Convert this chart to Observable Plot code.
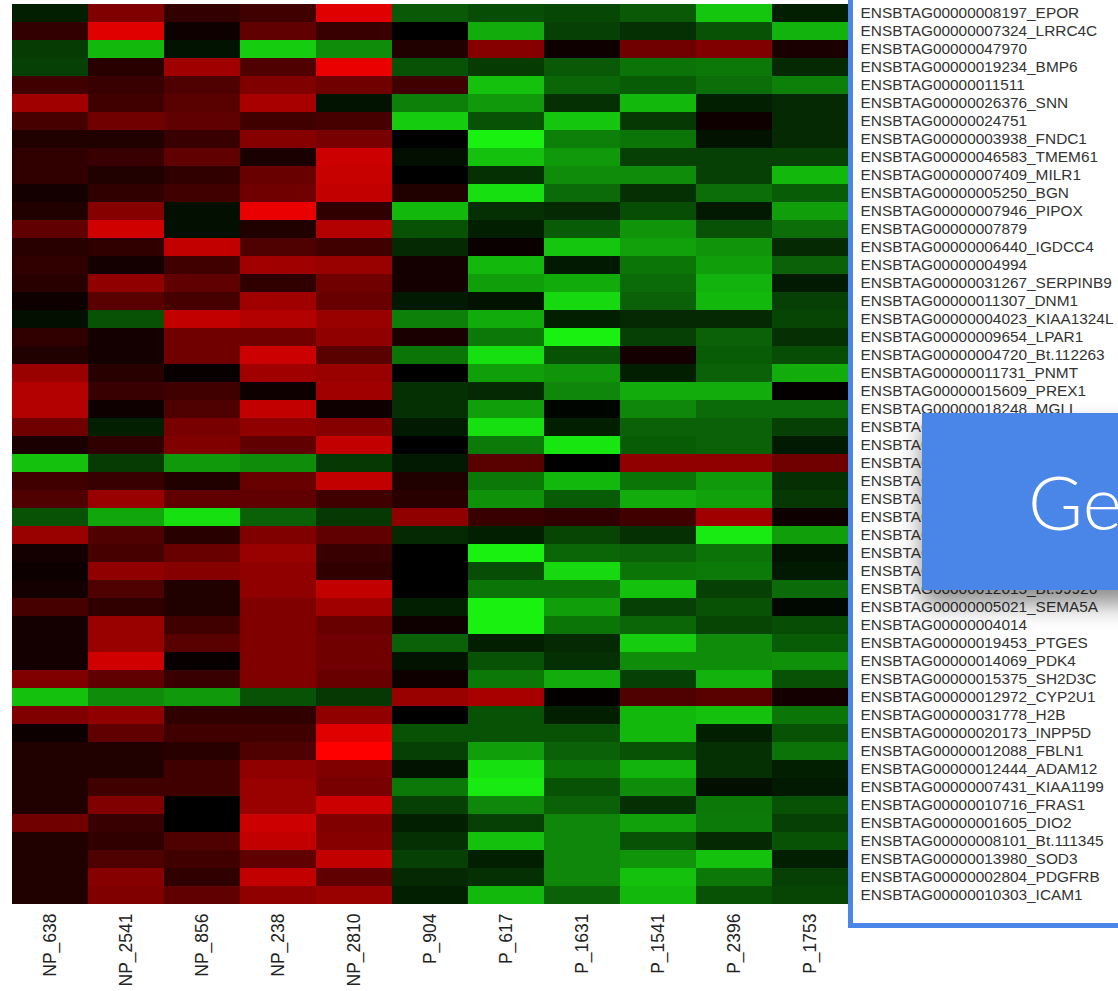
<!DOCTYPE html>
<html>
<head>
<meta charset="utf-8">
<script src="https://cdn.jsdelivr.net/npm/d3@7"></script>
<script src="https://cdn.jsdelivr.net/npm/@observablehq/plot@0.6"></script>
<style>
  html, body { margin: 0; padding: 0; background: #fff; }
  #wrap { position: relative; width: 1118px; height: 991px; overflow: hidden; }
  #frame { position: absolute; left: 848px; top: -10px; width: 320px; height: 938px;
           box-sizing: border-box; border-left: 5px solid #4a86e8; border-bottom: 5px solid #4a86e8; }
  #overlay { position: absolute; left: 922px; top: 413px; width: 220px; height: 177px;
             background: #4a86e8; box-shadow: 0 14px 22px rgba(0,0,0,0.45); }
  #overlay span { position: absolute; left: 106px; top: 51px; line-height: 75px;
                  font-family: Lato, "Open Sans", sans-serif; font-weight: 300; font-size: 75px; color: #fff; white-space: nowrap; }
</style>
</head>
<body>
<div id="wrap">
  <div id="chart"></div>
  <div id="frame"></div>
  <div id="overlay"><span>Ge</span></div>
</div>
<script>
const columns = ["NP_638","NP_2541","NP_856","NP_238","NP_2810","P_904","P_617","P_1631","P_1541","P_2396","P_1753"];

const genes = [
  "ENSBTAG00000008197_EPOR","ENSBTAG00000007324_LRRC4C","ENSBTAG00000047970","ENSBTAG00000019234_BMP6",
  "ENSBTAG00000011511","ENSBTAG00000026376_SNN","ENSBTAG00000024751","ENSBTAG00000003938_FNDC1",
  "ENSBTAG00000046583_TMEM61","ENSBTAG00000007409_MILR1","ENSBTAG00000005250_BGN","ENSBTAG00000007946_PIPOX",
  "ENSBTAG00000007879","ENSBTAG00000006440_IGDCC4","ENSBTAG00000004994","ENSBTAG00000031267_SERPINB9",
  "ENSBTAG00000011307_DNM1","ENSBTAG00000004023_KIAA1324L","ENSBTAG00000009654_LPAR1","ENSBTAG00000004720_Bt.112263",
  "ENSBTAG00000011731_PNMT","ENSBTAG00000015609_PREX1","ENSBTAG00000018248_MGLL",
  "ENSBTAG","ENSBTAG","ENSBTAG","ENSBTAG","ENSBTAG","ENSBTAG","ENSBTAG","ENSBTAG","ENSBTAG",
  "ENSBTAG00000012015_Bt.99926",
  "ENSBTAG00000005021_SEMA5A","ENSBTAG00000004014","ENSBTAG00000019453_PTGES","ENSBTAG00000014069_PDK4",
  "ENSBTAG00000015375_SH2D3C","ENSBTAG00000012972_CYP2U1","ENSBTAG00000031778_H2B","ENSBTAG00000020173_INPP5D",
  "ENSBTAG00000012088_FBLN1","ENSBTAG00000012444_ADAM12","ENSBTAG00000007431_KIAA1199","ENSBTAG00000010716_FRAS1",
  "ENSBTAG00000001605_DIO2","ENSBTAG00000008101_Bt.111345","ENSBTAG00000013980_SOD3","ENSBTAG00000002804_PDGFRB",
  "ENSBTAG00000010303_ICAM1"
];

// one array per sample column, 50 genes top to bottom (relative expression, + = red, - = green)
const NP_638 = [-0.12,0.2,-0.23,-0.25,0.25,0.63,0.28,0.13,0.19,0.19,
  0.08,0.13,0.38,0.16,0.19,0.16,0.06,-0.06,0.19,0.13,
  0.6,0.7,0.7,0.44,0.1,-0.76,0.25,0.31,-0.32,0.6,
  0.08,0.05,0.08,0.28,0.08,0.08,0.08,0.5,-0.76,0.5,
  0.05,0.13,0.13,0.13,0.13,0.44,0.13,0.13,0.13,0.13];
const NP_2541 = [0.5,0.88,-0.72,0.16,0.22,0.25,0.44,0.13,0.22,0.13,
  0.19,0.53,0.82,0.19,0.08,0.57,0.35,-0.32,0.08,0.08,
  0.16,0.22,0.06,-0.12,0.19,-0.23,0.22,0.6,-0.65,0.31,
  0.28,0.57,0.31,0.19,0.6,0.6,0.82,0.38,-0.55,0.57,
  0.38,0.13,0.13,0.25,0.5,0.22,0.19,0.31,0.53,0.5];
const NP_856 = [0.2,0.06,-0.08,0.63,0.31,0.35,0.38,0.22,0.38,0.19,
  0.25,-0.06,-0.06,0.76,0.25,0.38,0.28,0.76,0.44,0.44,
  0.03,0.25,0.31,0.47,0.5,-0.6,0.13,0.38,-0.88,0.16,
  0.41,0.53,0.13,0.13,0.25,0.35,0.03,0.22,-0.6,0.19,
  0.25,0.16,0.25,0.25,0,0,0.31,0.25,0.19,0.38];
const NP_238 = [0.25,0.38,-0.8,0.31,0.5,0.66,0.25,0.53,0.1,0.41,
  0.44,0.92,0.13,0.31,0.63,0.19,0.63,0.7,0.44,0.8,
  0.63,0.06,0.76,0.57,0.38,-0.55,0.41,0.38,-0.38,0.5,
  0.6,0.57,0.57,0.5,0.5,0.5,0.5,0.5,-0.32,0.19,
  0.25,0.31,0.57,0.6,0.6,0.8,0.76,0.38,0.76,0.57];
const NP_2810 = [0.88,0.22,-0.55,0.92,0.44,-0.08,0.28,0.47,0.8,0.78,
  0.76,0.19,0.7,0.25,0.6,0.44,0.41,0.6,0.57,0.35,
  0.6,0.63,0.06,0.53,0.76,-0.22,0.76,0.25,-0.22,0.38,
  0.22,0.19,0.76,0.63,0.41,0.44,0.44,0.41,-0.22,0.57,
  0.88,1.0,0.5,0.47,0.8,0.5,0.53,0.76,0.38,0.6];
const P_904 = [-0.35,0,0.13,-0.32,0.25,-0.5,-0.8,0,-0.06,0,
  0.13,-0.72,-0.32,-0.16,0.08,0.08,-0.1,-0.5,0.1,-0.46,
  0,-0.19,-0.19,-0.1,0,-0.1,0.13,0.16,0.57,-0.16,
  0,0,0,-0.12,0.06,-0.38,-0.08,0.06,0.6,0,
  -0.32,-0.25,-0.08,-0.47,-0.25,-0.12,-0.19,-0.25,-0.16,-0.12];
const P_617 = [-0.3,-0.68,0.53,-0.23,-0.76,-0.6,-0.32,-0.95,-0.76,-0.19,
  -0.88,-0.19,-0.12,0.04,-0.72,-0.62,-0.08,-0.67,-0.47,-0.88,
  -0.62,-0.16,-0.62,-0.88,-0.48,0.35,-0.47,-0.57,0.22,-0.12,
  -0.95,-0.3,-0.46,-0.95,-0.95,-0.12,-0.32,-0.47,0.66,-0.32,
  -0.32,-0.62,-0.88,-0.92,-0.53,-0.25,-0.76,-0.12,-0.19,-0.72];
const P_1631 = [-0.28,-0.25,0.06,-0.35,-0.4,-0.19,-0.78,-0.5,-0.6,-0.55,
  -0.42,-0.16,-0.36,-0.78,-0.1,-0.67,-0.85,-0.12,-0.95,-0.32,
  -0.58,-0.53,-0.02,-0.12,-0.9,0,-0.72,-0.36,0.19,-0.27,
  -0.4,-0.85,-0.46,-0.62,-0.46,-0.16,-0.19,-0.68,0.02,-0.12,
  -0.32,-0.38,-0.46,-0.32,-0.38,-0.53,-0.53,-0.53,-0.53,-0.38];
const P_1541 = [-0.35,-0.19,0.44,-0.45,-0.36,-0.72,-0.22,-0.46,-0.25,-0.55,
  -0.19,-0.3,-0.58,-0.63,-0.46,-0.42,-0.38,-0.16,-0.25,0.08,
  -0.12,-0.68,-0.53,-0.38,-0.36,0.57,-0.46,-0.68,0.25,-0.19,
  -0.38,-0.46,-0.76,-0.25,-0.4,-0.8,-0.55,-0.25,0.31,-0.72,
  -0.72,-0.32,-0.7,-0.55,-0.19,-0.63,-0.32,-0.58,-0.76,-0.72];
const P_2396 = [-0.78,-0.32,0.5,-0.47,-0.43,-0.12,0.06,-0.08,-0.25,-0.25,
  -0.43,-0.1,-0.32,-0.58,-0.62,-0.7,-0.72,-0.16,-0.38,-0.36,
  -0.38,-0.68,-0.42,-0.38,-0.38,0.57,-0.6,-0.63,0.63,-0.92,
  -0.45,-0.48,-0.25,-0.32,-0.27,-0.55,-0.55,-0.7,0.35,-0.76,
  -0.12,-0.19,-0.19,-0.06,-0.47,-0.48,-0.16,-0.76,-0.47,-0.32];
const P_1753 = [-0.12,-0.7,0.1,-0.16,-0.5,-0.16,-0.16,-0.16,-0.25,-0.72,
  -0.36,-0.62,-0.43,-0.16,-0.38,-0.1,-0.25,-0.27,-0.19,-0.3,
  -0.68,0.02,-0.42,-0.25,-0.1,0.44,-0.19,-0.22,0.06,-0.62,
  -0.08,-0.1,-0.42,-0.03,-0.3,-0.36,-0.57,-0.32,0.08,-0.46,
  -0.32,-0.45,-0.12,-0.1,-0.32,-0.25,-0.32,-0.12,-0.25,-0.27];

const sampleValues = [NP_638, NP_2541, NP_856, NP_238, NP_2810, P_904, P_617, P_1631, P_1541, P_2396, P_1753];

const table = [];
genes.forEach((g, i) => {
  columns.forEach((c, j) => {
    table.push({row: i, sample: c, value: sampleValues[j][i]});
  });
});

const chart = Plot.plot({
  width: 1118,
  height: 991,
  marginTop: 3,
  marginBottom: 86,
  marginLeft: 12,
  marginRight: 270,
  style: {fontFamily: "'Liberation Sans', Arial, Helvetica, sans-serif", background: "transparent", color: "#2a2a2a"},
  x: {domain: columns, padding: 0, axis: "bottom", tickRotate: -90, tickSize: 0, tickPadding: 8, label: null},
  y: {domain: d3.range(genes.length), padding: 0, axis: "right", tickSize: 0, tickPadding: 12,
      tickFormat: i => genes[i], label: null},
  color: {type: "linear", domain: [-1, 0, 1], range: ["#1aff12", "#000000", "#ff0000"], interpolate: "rgb"},
  marks: [
    Plot.cell(table, {x: "sample", y: "row", fill: "value", inset: 0, shapeRendering: "crispEdges"})
  ]
});

document.getElementById("chart").appendChild(chart);

// font sizes: sample names larger than gene names
const colSet = new Set(columns);
d3.select(chart).selectAll("text").each(function() {
  const t = this.textContent;
  if (colSet.has(t)) {
    this.setAttribute("font-size", "17.5px");
    this.style.fontSize = "17.5px";
    this.setAttribute("fill", "#222");
  } else if (t.startsWith("ENSBTAG")) {
    this.setAttribute("font-size", "15.4px");
    this.style.fontSize = "15.4px";
    this.setAttribute("fill", "#333");
  }
});
</script>
</body>
</html>
